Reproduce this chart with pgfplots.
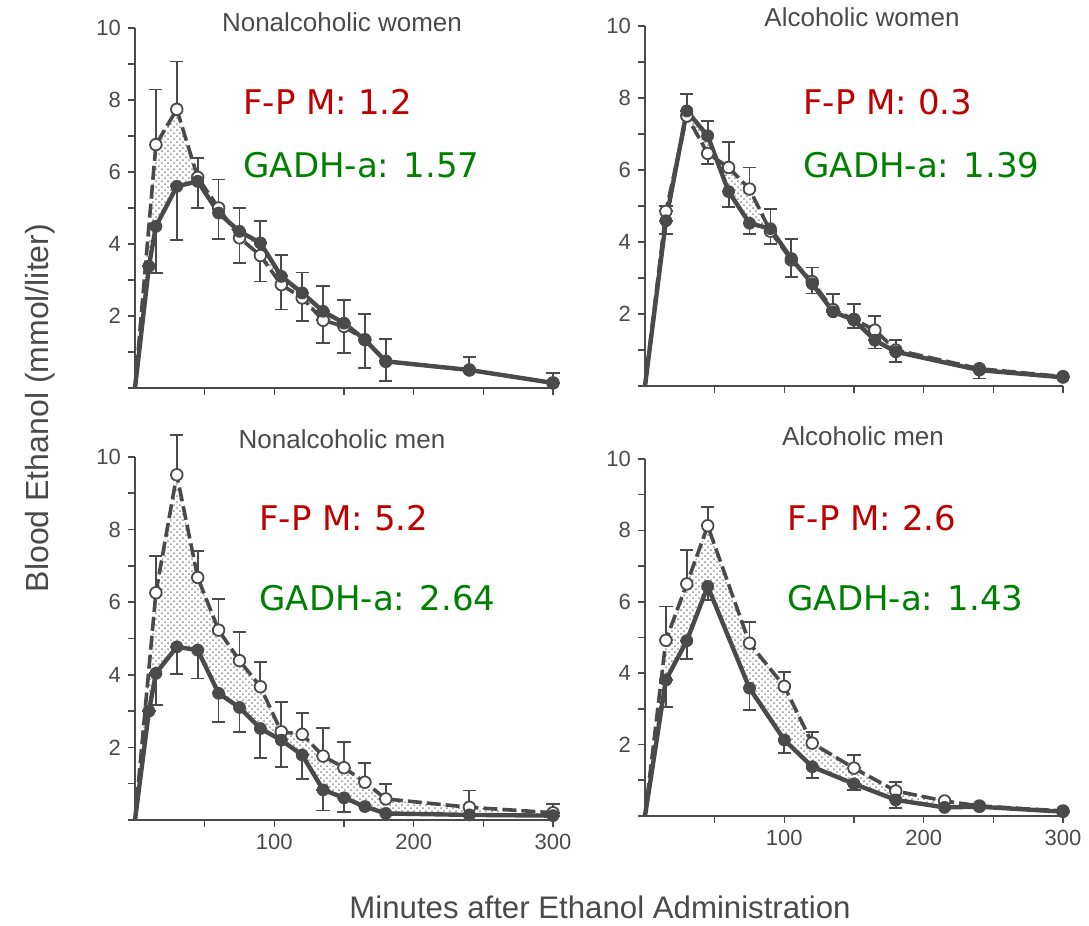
\documentclass[border=0pt]{standalone}
\usepackage{fontspec}
\setmainfont{Liberation Sans}
\newfontfamily\annfont{DejaVu Sans}
\usepackage{pgfplots}
\usepackage{pgfplotstable}
\pgfplotsset{compat=1.18}
\usepgfplotslibrary{fillbetween}
\usetikzlibrary{patterns}
\definecolor{ink}{HTML}{4A4A4A}
\definecolor{fpred}{HTML}{C00000}
\definecolor{gadhgreen}{HTML}{008000}

% columns: minutes, mean, error up, error down
\pgfplotstableread{
t y ep em
0 0 0 0
10 3.38 0 0
15 4.49 0 1.29
30 5.60 0 1.48
45 5.74 0 0.74
60 4.86 0 0.72
75 4.35 0.65 0
90 4.03 0.60 0
105 3.10 0.60 0
120 2.64 0.57 0
135 2.13 0.71 0
150 1.80 0.65 0
165 1.34 0.72 0
180 0.74 0.62 0
240 0.50 0.36 0
300 0.14 0.28 0
}\fA
\pgfplotstableread{
t y ep em
0 0 0 0
15 6.76 1.53 0
30 7.74 1.33 0
45 5.85 0.54 0
60 5.00 0.79 0
75 4.17 0 0.70
90 3.68 0 0.72
105 2.87 0 0.69
120 2.50 0 0.65
135 1.88 0 0.63
150 1.71 0 0.74
165 1.34 0 0.78
180 0.74 0 0.55
240 0.50 0 0
300 0.14 0 0
}\oA
\pgfplotstableread{
t y ep em
0 0 0 0
15 4.59 0 0.36
30 7.64 0 0
45 6.95 0.40 0
60 5.40 0 0.42
75 4.52 0 0.29
90 4.37 0.55 0
105 3.54 0.55 0
120 2.84 0.45 0
135 2.06 0.49 0
150 1.83 0.44 0
165 1.27 0 0.23
180 0.95 0.32 0
240 0.44 0 0.23
300 0.24 0 0
}\fB
\pgfplotstableread{
t y ep em
0 0 0 0
15 4.85 0.14 0
30 7.50 0.60 0
45 6.46 0 0.29
60 6.07 0.70 0
75 5.47 0.60 0
90 4.30 0 0.35
105 3.50 0 0.47
120 2.90 0 0.33
135 2.12 0 0
150 1.85 0 0.25
165 1.55 0.39 0
180 1.00 0 0.33
240 0.48 0 0
300 0.26 0 0
}\oB
\pgfplotstableread{
t y ep em
0 0 0 0
10 3.00 0 0
15 4.04 0 0.87
30 4.77 0 0.75
45 4.68 0 0.78
60 3.49 0 0.78
75 3.10 0 0.67
90 2.52 0 0.82
105 2.20 0 0.73
120 1.79 0 0.66
135 0.83 0 0.57
150 0.61 0 0.40
165 0.37 0 0
180 0.18 0 0
240 0.14 0 0
300 0.12 0 0
}\fC
\pgfplotstableread{
t y ep em
0 0 0 0
15 6.26 1.01 0
30 9.51 1.09 0
45 6.68 0.73 0
60 5.23 0.85 0
75 4.39 0.78 0
90 3.67 0.69 0
105 2.43 0.81 0
120 2.36 0.58 0
135 1.76 0.78 0
150 1.44 0.70 0
165 1.04 0.54 0
180 0.58 0.42 0
240 0.35 0.46 0
300 0.20 0.24 0
}\oC
\pgfplotstableread{
t y ep em
0 0 0 0
15 3.81 0 0.76
30 4.91 0 0.52
45 6.43 0 0.37
75 3.58 0 0.61
100 2.13 0 0.37
120 1.38 0 0.32
150 0.90 0 0.17
180 0.45 0 0.22
215 0.24 0 0
240 0.26 0 0
300 0.12 0 0
}\fD
\pgfplotstableread{
t y ep em
0 0 0 0
15 4.92 0.95 0
30 6.50 0.96 0
45 8.13 0.52 0
75 4.84 0.59 0
100 3.63 0.40 0
120 2.04 0.32 0
150 1.34 0.37 0
180 0.70 0.26 0
215 0.42 0 0
240 0.28 0 0
300 0.14 0 0
}\oD

\pgfplotsset{
  panel/.style={
    scale only axis, width=209pt, height=180pt,
    anchor=south west, clip=false,
    xmin=0, xmax=300, ymin=0, ymax=10,
    axis x line*=bottom, axis y line*=left,
    axis line style={ink, line width=1pt},
    tick align=outside, major tick length=3.5pt, minor tick length=3.5pt,
    tick style={ink, line width=0.8pt},
    xtick={50,100,...,300}, xticklabels={,,,,,},
    ytick={2,4,...,10}, minor ytick={1,3,...,9},
    tick label style={font=\fontsize{11}{11}\selectfont, text=ink},
    /pgf/number format/assume math mode=true,
  },
  bottomrow/.style={xticklabels={,100,,200,,300}},
  errs/.style={
    error bars/y dir=both, error bars/y explicit,
    error bars/error bar style={line width=0.9pt, solid, ink},
    error bars/error mark options={rotate=90, mark size=3.3pt, line width=0.9pt, ink},
  },
  filled/.style={ink, line width=2.2pt, solid, mark=*, mark size=2.9pt,
    mark options={solid, fill=ink, draw=ink, line width=0.6pt},
    mark indices={2,3,4,5,6,7,8,9,10,11,12,13,14,15,16}, errs},
  open/.style={ink, line width=1.8pt, dash pattern=on 7pt off 2.5pt,
    mark=*, mark size=2.9pt,
    mark options={solid, fill=white, draw=ink, line width=0.9pt},
    mark indices={2,3,4,5,6,7,8,9,10,11,12,13,14,15,16}, errs},
  shade/.style={pattern=crosshatch dots, pattern color=black!45, draw=none},
}

\begin{document}
\begin{tikzpicture}
\path (0,0) rectangle (544.5pt,462.5pt);

\begin{axis}[panel, at={(67.5pt,268.5pt)}]
\addplot[open, name path=oA] table[x=t, y=y, y error plus=ep, y error minus=em] {\oA};
\addplot[filled, name path=fA] table[x=t, y=y, y error plus=ep, y error minus=em] {\fA};
\addplot[shade] fill between[of=oA and fA];
\end{axis}
\begin{axis}[panel, at={(322.5pt,269.5pt)}]
\addplot[open, name path=oB] table[x=t, y=y, y error plus=ep, y error minus=em] {\oB};
\addplot[filled, name path=fB] table[x=t, y=y, y error plus=ep, y error minus=em] {\fB};
\addplot[shade] fill between[of=oB and fB];
\end{axis}
\begin{axis}[panel, bottomrow, height=181.5pt, at={(67.5pt,52.5pt)}]
\addplot[open, name path=oC] table[x=t, y=y, y error plus=ep, y error minus=em] {\oC};
\addplot[filled, name path=fC] table[x=t, y=y, y error plus=ep, y error minus=em] {\fC};
\addplot[shade] fill between[of=oC and fC];
\end{axis}
\begin{axis}[panel, bottomrow, height=178.5pt, at={(322.5pt,54.5pt)}]
\addplot[open, name path=oD] table[x=t, y=y, y error plus=ep, y error minus=em] {\oD};
\addplot[filled, name path=fD] table[x=t, y=y, y error plus=ep, y error minus=em] {\fD};
\addplot[shade] fill between[of=oD and fD];
\end{axis}

\begin{scope}[every node/.style={font=\fontsize{13}{13}\selectfont, text=ink, anchor=base, inner sep=0pt}]
\node at (171pt,446.5pt) {Nonalcoholic women};
\node at (431pt,449pt) {Alcoholic women};
\node at (171pt,238pt) {Nonalcoholic men};
\node at (431.5pt,239.5pt) {Alcoholic men};
\end{scope}

\begin{scope}[every node/.style={font=\annfont\fontsize{17}{17}\selectfont, anchor=base west, inner sep=0pt}]
\node[text=fpred] at (121.5pt,405pt) {F-P M: 1.2};
\node[text=gadhgreen] at (121.5pt,373.5pt) {GADH-a: 1.57};
\node[text=fpred] at (401.5pt,405pt) {F-P M: 0.3};
\node[text=gadhgreen] at (401.5pt,373.5pt) {GADH-a: 1.39};
\node[text=fpred] at (129.5pt,197pt) {F-P M: 5.2};
\node[text=gadhgreen] at (129.5pt,157pt) {GADH-a: 2.64};
\node[text=fpred] at (393.5pt,197pt) {F-P M: 2.6};
\node[text=gadhgreen] at (393.5pt,157pt) {GADH-a: 1.43};
\end{scope}

\node[font=\fontsize{16}{16}\selectfont, text=ink, rotate=90] at (20pt,258.5pt) {Blood Ethanol (mmol/liter)};
\node[font=\fontsize{15.6}{15.6}\selectfont, text=ink] at (300pt,9pt) {Minutes after Ethanol Administration};
\end{tikzpicture}
\end{document}
